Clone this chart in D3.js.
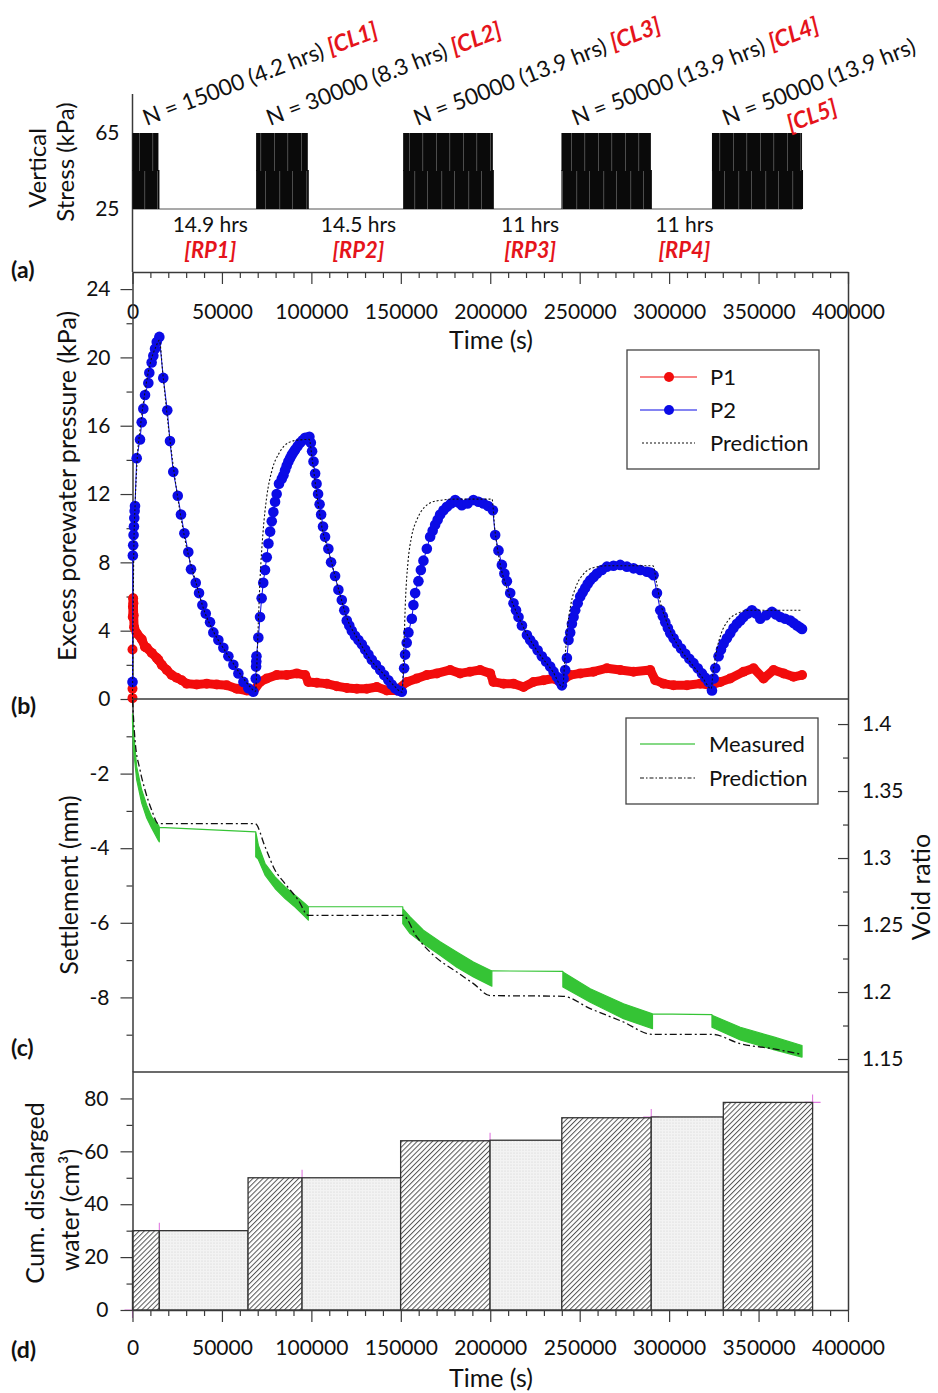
<!DOCTYPE html>
<html>
<head>
<meta charset="utf-8">
<script src="https://cdn.jsdelivr.net/npm/d3@7"></script>
<style>
  body { margin: 0; background: #fff; }
  svg text { font-family: Lato, "Open Sans", "DejaVu Sans", sans-serif; }
</style>
</head>
<body>
<svg id="chart" width="938" height="1393"></svg>
<script>
// ---------------- data ----------------
// (a) cyclic loading stages: start / end time (s), stress bounds (kPa)
const cycleStart = [0, 69100, 151300, 239800, 323950];
const cycleEnd   = [14500, 98000, 201450, 289800, 374300];
const stressRange = [25, 65];
const cycleCounts = [15000, 30000, 50000, 50000, 50000];
const cycleHours  = [4.2, 8.3, 13.9, 13.9, 13.9];
const cycleTags   = ["[CL1]", "[CL2]", "[CL3]", "[CL4]", "[CL5]"];
const restHours   = [14.9, 14.5, 11, 11];
const restTags    = ["[RP1]", "[RP2]", "[RP3]", "[RP4]"];

// (b) excess porewater pressure, [time (s), kPa]
const p1Series = [
  [0,0.05],[0,0.6],[0,2.9],[150,4.8],[250,5.4],[350,5.9],[500,5.6],[650,4.9],[900,4.2],
  [2350,3.85],[5150,3.5],[7000,3.05],[7950,3.0],[10750,2.7],[13550,2.4],[14450,2.3],[16350,2.0],
  [19150,1.7],[21900,1.4],[24700,1.25],[27500,1.1],[30300,0.9],[35900,0.85],[41500,0.9],
  [47100,0.85],[52700,0.8],[58300,0.6],[63850,0.5],[67550,0.45],[71300,1.0],[75050,1.2],
  [80650,1.4],[86250,1.4],[91850,1.5],[96500,1.4],[98300,1.0],[103000,0.95],[108600,0.9],
  [114200,0.75],[119800,0.65],[125400,0.6],[131000,0.6],[136600,0.7],[142200,0.5],[147750,0.5],
  [153350,1.0],[158950,1.2],[164550,1.4],[170150,1.5],[177600,1.7],[183150,1.5],[188750,1.6],
  [194350,1.7],[199950,1.5],[201800,1.0],[207400,0.9],[213000,0.9],[218600,0.7],[224150,1.0],
  [229750,1.1],[235350,1.2],[239100,1.0],[244700,1.4],[250300,1.5],[257700,1.6],[265200,1.8],
  [272650,1.7],[280100,1.6],[289450,1.7],[292250,1.1],[296900,0.9],[302450,0.8],[309950,0.8],
  [317400,0.9],[323000,0.8],[328600,1.0],[334150,1.2],[341600,1.6],[347200,1.8],[352800,1.2],
  [358400,1.7],[364000,1.5],[369550,1.3],[374300,1.4]
];
const p2Series = [
  [0,1.0],[200,8.4],[400,9.0],[600,9.6],[800,10.1],[1000,10.6],[1200,11.0],[1400,11.3],
  [2350,14.1],[4200,15.2],[5150,16.2],[6050,17.0],[7000,17.8],[8850,18.5],[9400,19.1],
  [10700,19.7],[11650,20.1],[12600,20.5],[13550,20.9],[15000,21.2],
  [17200,18.8],[19450,16.9],[20950,15.1],[22800,13.3],[25300,11.9],[27100,10.8],[29000,9.7],
  [31200,8.6],[32700,7.6],[35350,6.8],[37200,6.2],[39050,5.5],[40950,5.0],[43350,4.5],
  [45200,3.9],[48000,3.45],[50800,3.0],[53600,2.5],[56400,2.0],[59200,1.5],[62000,1.0],
  [64750,0.63],[67550,0.43],
  [68900,1.2],[69100,1.9],[69200,2.2],[69300,2.5],[70350,3.6],[71300,4.8],[72200,5.9],
  [73100,6.8],[74100,7.55],[75050,8.3],[76000,9.1],[76950,9.8],[77850,10.4],[78750,10.95],
  [79700,11.55],[80600,12.0],[81900,12.6],[83450,12.9],[84400,13.1],[85300,13.4],[86200,13.65],
  [87150,13.9],[88100,14.1],[89050,14.3],[90000,14.45],[90900,14.6],[92300,14.8],[93700,15.0],
  [95100,15.15],[96500,15.3],[97700,15.3],[98900,15.35],
  [99700,15.0],[100400,14.5],[101200,13.9],[102100,13.2],[102900,12.6],[103750,12.0],
  [104600,11.4],[105450,10.8],[106500,10.1],[107650,9.5],[109500,8.8],[111000,8.0],
  [113250,7.2],[115100,6.4],[117000,5.8],[118400,5.2],[119800,4.6],[121200,4.3],[122600,4.0],
  [124400,3.7],[126300,3.45],[128200,3.2],[130050,2.9],[131900,2.6],[133800,2.3],[136100,2.0],
  [138450,1.7],[140700,1.4],[143050,1.1],[144900,0.85],[146800,0.63],[148700,0.5],[150550,0.43],
  [151850,1.8],[152400,2.6],[153300,3.3],[154250,3.9],[156150,4.7],[157050,5.5],[158000,6.2],
  [159850,6.9],[161200,7.55],[162650,8.1],[164550,8.8],[166400,9.5],[167800,9.85],[169200,10.2],
  [170600,10.5],[172000,10.8],[173900,11.05],[175750,11.25],[178000,11.45],[180400,11.65],
  [182300,11.5],[184100,11.35],[187300,11.45],[190600,11.65],[193400,11.55],[196200,11.45],
  [198800,11.3],[201450,11.05],
  [202750,9.6],[204600,8.7],[206500,7.85],[207900,7.35],[209300,6.9],[211150,6.2],[213000,5.6],
  [214400,5.2],[215800,4.8],[217700,4.3],[220500,3.75],[222300,3.45],[224150,3.2],[226500,2.85],
  [228850,2.5],[231200,2.2],[233500,1.9],[235400,1.6],[237250,1.3],[238700,1.05],[240050,0.8],
  [241000,1.2],[241900,1.7],[242850,2.4],[243750,3.45],[244700,3.9],[245650,4.4],[246600,4.8],
  [247500,5.2],[248900,5.6],[250300,6.0],[251700,6.25],[253100,6.5],[254500,6.75],[255900,6.95],
  [257800,7.15],[259650,7.35],[262400,7.55],[265200,7.75],[268900,7.8],[272650,7.85],
  [276400,7.75],[280100,7.65],[283900,7.55],[287600,7.45],[289500,7.4],[291300,7.25],
  [293200,6.2],[295050,5.2],[296500,4.85],[297850,4.5],[299300,4.15],[300650,3.85],[302500,3.55],
  [304400,3.25],[306700,2.95],[309000,2.65],[311300,2.35],[313650,2.1],[316000,1.8],[318350,1.5],
  [320200,1.25],[322050,1.0],[323950,0.5],
  [324900,1.2],[325800,1.8],[327650,2.5],[329000,2.9],[330450,3.25],[332300,3.55],[334150,3.85],
  [336000,4.15],[337900,4.4],[339800,4.6],[341600,4.8],[344000,5.0],[346300,5.2],[348600,5.0],
  [350950,4.7],[354200,4.9],[357500,5.1],[359800,4.95],[362150,4.8],[364900,4.7],[367750,4.6],
  [369600,4.45],[371500,4.3],[373000,4.2],[374300,4.1]
];
const porePrediction = [
  [0,0],[300,4],[700,8.5],[1500,11.5],[2500,13.8],[4500,16],[7000,18],[10000,19.7],[13000,20.6],
  [15000,21.0],[17000,19],[20000,16],[25000,12],[30000,9],[35000,7],[40000,5.2],[45000,4.0],
  [50000,3.1],[55000,2.3],[60000,1.5],[65000,0.8],[68800,0.45],
  [70000,3.5],[71300,7],[73000,9.8],[75000,11.8],[78000,13.4],[82000,14.4],[87000,15.0],
  [92000,15.15],[98800,15.2],[100500,14],[103000,12],[106000,10],[110000,8.5],[115000,6.5],
  [120000,4.7],[126000,3.5],[133000,2.3],[140000,1.5],[146000,0.8],[150800,0.4],
  [151700,3],[152700,6],[154000,8],[156000,9.5],[159000,10.5],[163000,11.2],[170000,11.6],
  [180000,11.7],[201000,11.7],[202500,10],[205000,8.2],[210000,6.3],[215000,5],[220000,3.9],
  [227000,2.7],[235000,1.6],[240500,0.7],
  [241500,2],[243000,4],[245000,5.5],[248000,6.6],[252000,7.3],[258000,7.7],[266000,7.8],
  [291000,7.8],[293000,6.8],[295000,5.7],[298000,4.7],[302000,3.7],[307000,2.8],[313000,2.0],
  [319000,1.2],[323500,0.6],
  [324500,1.5],[326500,2.8],[329000,3.8],[333000,4.6],[338000,5.0],[345000,5.2],[374000,5.2]
];

// (c) measured settlement envelope: [time (s), upper (mm), lower (mm)]
const settleMeasured = [
  [0,-0.4,-0.6],[450,-0.83,-1.29],[2350,-1.82,-2.17],[5150,-2.44,-2.79],[7950,-2.85,-3.19],
  [10700,-3.16,-3.46],[14450,-3.38,-3.79],[15000,-3.44,-3.83],
  [15000,-3.44,-3.44],[68900,-3.56,-3.56],
  [68900,-3.56,-4.23],[70350,-3.92,-4.30],[74100,-4.41,-4.72],[79700,-4.77,-5.08],
  [85300,-5.04,-5.35],[90900,-5.26,-5.58],[96500,-5.49,-5.84],[98300,-5.57,-5.93],
  [98300,-5.57,-5.57],[151100,-5.57,-5.57],
  [151100,-5.62,-6.02],[155200,-5.84,-6.29],[162650,-6.20,-6.56],[172000,-6.51,-6.87],
  [181300,-6.78,-7.19],[190600,-7.05,-7.45],[200900,-7.29,-7.70],
  [200900,-7.29,-7.29],[240600,-7.30,-7.30],
  [240600,-7.32,-7.72],[255900,-7.77,-8.13],[274500,-8.17,-8.57],[290700,-8.44,-8.84],
  [290700,-8.44,-8.44],[323950,-8.46,-8.46],
  [323950,-8.48,-8.80],[339800,-8.80,-9.14],[358400,-9.06,-9.40],[374300,-9.29,-9.60]
];
const settlePrediction = [
  [0,-0.03],[1400,-1.1],[4200,-1.9],[7000,-2.44],[10750,-2.98],[14450,-3.34],[68500,-3.34],
  [74100,-3.96],[79700,-4.59],[85300,-4.95],[92750,-5.40],[98300,-5.80],[151100,-5.80],
  [158950,-6.38],[168250,-6.87],[181300,-7.32],[190600,-7.63],[199950,-7.95],[240600,-7.97],
  [255900,-8.30],[274500,-8.66],[290400,-8.99],[323950,-8.99],[339800,-9.24],[358400,-9.38],
  [374300,-9.53]
];

// (d) cumulative discharged water per stage
const waterStart = [0, 15000, 64600, 94800, 149900, 199900, 240000, 290000, 330300];
const waterEnd   = [15000, 64600, 94800, 149900, 199900, 240000, 290000, 330300, 380200];
const waterValue = [30, 30, 50, 50, 64, 64.2, 72.7, 73, 78.5];
const waterStage = ["CL","RP","CL","RP","CL","RP","CL","RP","CL"];
const waterPoints = [[0,0],[15000,30],[94800,50],[199900,64],[290000,73],[380200,78.5]];

// axis ticks
const timeTicks = [0, 50000, 100000, 150000, 200000, 250000, 300000, 350000, 400000];
const timeMinor = d3.range(10000, 400000, 10000).filter(d => d % 50000 !== 0);
const stressTicks = [25, 65];
const poreTicks = [0, 4, 8, 12, 16, 20, 24];
const poreMinor = [2, 6, 10, 14, 18, 22];
const settleTicks = [-8, -6, -4, -2];
const settleMinor = [-9, -7, -5, -3, -1];
const voidTicks = [1.15, 1.2, 1.25, 1.3, 1.35, 1.4];
const voidMinor = [1.175, 1.225, 1.275, 1.325, 1.375];
const waterTicks = [0, 20, 40, 60, 80];
const waterMinor = [10, 30, 50, 70];

// ---------------- layout ----------------
const FONT = 'Lato, "Open Sans", sans-serif';
const AX = "#3a3a3a";
const RED = "#f20c0c", BLUE = "#0b0be6", GREEN = "#35c435", TAG = "#e5141b";
const TICK_FS = 21, TITLE_FS = 25;
const svg = d3.select("#chart");

const x = d3.scaleLinear().domain([0, 400000]).range([132.5, 848]);
const yStress = d3.scaleLinear().domain([25, 65]).range([209, 133]);
const yPore = d3.scaleLinear().domain([0, 25]).range([699, 272]);
const ySettle = d3.scaleLinear().domain([-10, 0]).range([1072, 699]);
const yVoid = d3.scaleLinear().domain([1.1403, 1.4187]).range([1072, 699]);
const yWater = d3.scaleLinear().domain([0, 90]).range([1310, 1072]);

function styleAxis(g, size) {
  g.attr("font-family", FONT).attr("font-size", size || TICK_FS);
  g.select(".domain").attr("stroke", AX).attr("stroke-width", 1.5);
  g.selectAll(".tick line").attr("stroke", AX).attr("stroke-width", 1.2);
  g.selectAll(".tick text").attr("fill", "#111");
}
function minorAxis(gen, tf) {
  const g = svg.append("g").attr("transform", tf).call(gen.tickFormat(""));
  g.select(".domain").remove();
  g.selectAll(".tick line").attr("stroke", AX).attr("stroke-width", 1.2);
  return g;
}
function label(tf, text, size) {
  return svg.append("text").attr("transform", tf).attr("text-anchor", "middle")
    .attr("font-size", size || TITLE_FS).attr("fill", "#111").text(text);
}
const fmt = d => String(d);

// defs: fills for the cyclic stress blocks and panel (d) bars
const defs = svg.append("defs");
function streaks(id, offsets) {
  const p = defs.append("pattern").attr("id", id).attr("patternUnits", "userSpaceOnUse")
    .attr("width", 27).attr("height", 400);
  p.append("rect").attr("width", 27).attr("height", 400).attr("fill", "#0a0a0a");
  offsets.forEach(o => p.append("rect").attr("x", o).attr("width", 0.6).attr("height", 400)
    .attr("fill", "#fff").attr("opacity", 0.45));
}
streaks("streakTop", [4, 17.5]);
streaks("streakBot", [9.5, 22]);
const hatch = defs.append("pattern").attr("id", "hatch").attr("patternUnits", "userSpaceOnUse")
  .attr("width", 3.6).attr("height", 3.6).attr("patternTransform", "rotate(45)");
hatch.append("rect").attr("width", 3.6).attr("height", 3.6).attr("fill", "#fff");
hatch.append("line").attr("x1", 0.5).attr("y1", 0).attr("x2", 0.5).attr("y2", 3.6)
  .attr("stroke", "#555").attr("stroke-width", 1);
const dots = defs.append("pattern").attr("id", "dots").attr("patternUnits", "userSpaceOnUse")
  .attr("width", 3).attr("height", 3);
dots.append("rect").attr("width", 3).attr("height", 3).attr("fill", "#f3f3f3");
dots.append("circle").attr("cx", 1).attr("cy", 1).attr("r", 0.6).attr("fill", "#cfcfcf");

// ---------------- panel (a): vertical stress ----------------
svg.append("line").attr("x1", 132.5).attr("x2", 132.5).attr("y1", 94).attr("y2", 272)
  .attr("stroke", AX).attr("stroke-width", 1.5);
svg.append("line").attr("x1", x(0)).attr("x2", x(cycleEnd[cycleEnd.length - 1]))
  .attr("y1", yStress(stressRange[0])).attr("y2", yStress(stressRange[0]))
  .attr("stroke", "#555").attr("stroke-width", 1.2);
const stressMid = (stressRange[0] + stressRange[1]) / 2;
const blocks = svg.append("g");
blocks.selectAll("rect.bot").data(cycleStart).join("rect").attr("class", "bot")
  .attr("x", d => x(d)).attr("width", (d, i) => x(cycleEnd[i]) - x(d) + 1)
  .attr("y", yStress(stressMid) - 1).attr("height", yStress(stressRange[0]) - yStress(stressMid) + 1)
  .attr("fill", "url(#streakBot)");
blocks.selectAll("rect.top").data(cycleStart).join("rect").attr("class", "top")
  .attr("x", d => x(d)).attr("width", (d, i) => x(cycleEnd[i]) - x(d))
  .attr("y", yStress(stressRange[1])).attr("height", yStress(stressMid) - yStress(stressRange[1]))
  .attr("fill", "url(#streakTop)");
const gA = svg.append("g").attr("transform", "translate(132.5,0)")
  .call(d3.axisLeft(yStress).tickValues(stressTicks).tickSize(0).tickPadding(13).tickFormat(fmt));
gA.select(".domain").remove();
styleAxis(gA);

label("translate(46,168) rotate(-90)", "Vertical", 24);
label("translate(74,162) rotate(-90)", "Stress (kPa)", 24);

cycleStart.forEach((s, i) => {
  const t = svg.append("text")
    .attr("transform", `translate(${x(s) + 14},126) rotate(-21)`)
    .attr("font-size", 22.5).attr("fill", "#111");
  t.append("tspan").text(`N = ${cycleCounts[i]} (${cycleHours[i]} hrs) `);
  const tag = t.append("tspan").attr("fill", TAG).attr("font-weight", "bold").attr("font-style", "italic")
    .attr("font-size", 23).text(cycleTags[i]);
  if (i === cycleStart.length - 1) tag.attr("x", 58).attr("dy", 29);
});

restHours.forEach((h, i) => {
  const cx = (x(cycleEnd[i]) + x(cycleStart[i + 1])) / 2 + 3;
  svg.append("text").attr("x", cx).attr("y", 232).attr("text-anchor", "middle")
    .attr("font-size", 21).attr("fill", "#111").text(`${h} hrs`);
  svg.append("text").attr("x", cx).attr("y", 258).attr("text-anchor", "middle")
    .attr("font-size", 22).attr("font-weight", "bold").attr("font-style", "italic")
    .attr("fill", TAG).text(restTags[i]);
});

// ---------------- panel (b): excess porewater pressure ----------------
minorAxis(d3.axisBottom(x).tickValues(timeMinor).tickSize(6), "translate(0,272)");
const gTop = svg.append("g").attr("transform", "translate(0,272)")
  .call(d3.axisBottom(x).tickValues(timeTicks).tickSize(12).tickSizeOuter(0).tickPadding(20).tickFormat(fmt));
styleAxis(gTop);
label("translate(491,349)", "Time (s)");

minorAxis(d3.axisLeft(yPore).tickValues(poreMinor).tickSize(6), "translate(132.5,0)");
const gPore = svg.append("g").attr("transform", "translate(132.5,0)")
  .call(d3.axisLeft(yPore).tickValues(poreTicks).tickSize(12).tickSizeOuter(0).tickPadding(10).tickFormat(fmt));
styleAxis(gPore);
label("translate(76,486) rotate(-90)", "Excess porewater pressure (kPa)");

const porePath = d3.line().x(d => x(d[0])).y(d => yPore(d[1]));
// P1: closely spaced readings merge into a solid trace
svg.append("path").datum(p1Series.filter(d => d[0] > 0)).attr("d", porePath)
  .attr("fill", "none").attr("stroke", RED).attr("stroke-width", 9)
  .attr("stroke-linejoin", "round").attr("stroke-linecap", "round");
svg.append("g").selectAll("circle").data(p1Series).join("circle")
  .attr("cx", d => x(d[0])).attr("cy", d => yPore(d[1])).attr("r", 5).attr("fill", RED);
// P2
svg.append("path").datum(p2Series).attr("d", porePath)
  .attr("fill", "none").attr("stroke", BLUE).attr("stroke-width", 1);
svg.append("g").selectAll("circle").data(p2Series).join("circle")
  .attr("cx", d => x(d[0])).attr("cy", d => yPore(d[1])).attr("r", 5.3).attr("fill", BLUE);
// prediction
svg.append("path").datum(porePrediction).attr("d", porePath.curve(d3.curveMonotoneX))
  .attr("fill", "none").attr("stroke", "#111").attr("stroke-width", 1.1).attr("stroke-dasharray", "2,2");

// legend (b)
const lb = svg.append("g");
lb.append("rect").attr("x", 627).attr("y", 350).attr("width", 192).attr("height", 119)
  .attr("fill", "#fff").attr("stroke", "#444").attr("stroke-width", 1.3);
[["P1", RED, 377], ["P2", BLUE, 410]].forEach(([name, c, yy]) => {
  lb.append("line").attr("x1", 640).attr("x2", 697).attr("y1", yy).attr("y2", yy).attr("stroke", c).attr("stroke-width", 1.2);
  lb.append("circle").attr("cx", 669).attr("cy", yy).attr("r", 5).attr("fill", c);
  lb.append("text").attr("x", 710).attr("y", yy + 8).attr("font-size", 22).attr("fill", "#111").text(name);
});
lb.append("line").attr("x1", 642).attr("x2", 695).attr("y1", 443).attr("y2", 443)
  .attr("stroke", "#111").attr("stroke-width", 1.1).attr("stroke-dasharray", "2,2");
lb.append("text").attr("x", 710).attr("y", 451).attr("font-size", 22).attr("fill", "#111").text("Prediction");

// ---------------- panel (c): settlement ----------------
svg.append("line").attr("x1", 132.5).attr("x2", 848).attr("y1", 699).attr("y2", 699)
  .attr("stroke", AX).attr("stroke-width", 1.5);
svg.append("line").attr("x1", 132.5).attr("x2", 848).attr("y1", 1072).attr("y2", 1072)
  .attr("stroke", AX).attr("stroke-width", 1.5);
svg.append("line").attr("x1", 848.5).attr("x2", 848.5).attr("y1", 272).attr("y2", 1310)
  .attr("stroke", AX).attr("stroke-width", 1.5);

minorAxis(d3.axisLeft(ySettle).tickValues(settleMinor).tickSize(6), "translate(132.5,0)");
const gSet = svg.append("g").attr("transform", "translate(132.5,0)")
  .call(d3.axisLeft(ySettle).tickValues(settleTicks).tickSize(12).tickSizeOuter(0).tickPadding(11).tickFormat(fmt));
styleAxis(gSet);
minorAxis(d3.axisRight(yVoid).tickValues(voidMinor).tickSize(-5), "translate(848,0)");
const gVoid = svg.append("g").attr("transform", "translate(848,0)")
  .call(d3.axisRight(yVoid).tickValues(voidTicks).tickSizeInner(-10).tickSizeOuter(0).tickPadding(14).tickFormat(fmt));
gVoid.select(".domain").remove();
styleAxis(gVoid);

label("translate(78,885) rotate(-90)", "Settlement (mm)");
label("translate(930,887) rotate(-90)", "Void ratio");

svg.append("path").datum(settleMeasured)
  .attr("d", d3.area().x(d => x(d[0])).y0(d => ySettle(d[2])).y1(d => ySettle(d[1])))
  .attr("fill", GREEN).attr("stroke", GREEN).attr("stroke-width", 1.2).attr("stroke-linejoin", "round");
svg.append("path").datum(settlePrediction)
  .attr("d", d3.line().x(d => x(d[0])).y(d => ySettle(d[1])).curve(d3.curveMonotoneX))
  .attr("fill", "none").attr("stroke", "#111").attr("stroke-width", 1.3).attr("stroke-dasharray", "7,3,2,3");

const lc = svg.append("g");
lc.append("rect").attr("x", 626).attr("y", 718).attr("width", 192).attr("height", 86)
  .attr("fill", "#fff").attr("stroke", "#444").attr("stroke-width", 1.3);
lc.append("line").attr("x1", 640).attr("x2", 695).attr("y1", 744).attr("y2", 744)
  .attr("stroke", "#5ccc5c").attr("stroke-width", 1.4);
lc.append("text").attr("x", 709).attr("y", 752).attr("font-size", 22).attr("fill", "#111").text("Measured");
lc.append("line").attr("x1", 640).attr("x2", 695).attr("y1", 778).attr("y2", 778)
  .attr("stroke", "#111").attr("stroke-width", 1.2).attr("stroke-dasharray", "4,2,1.5,2");
lc.append("text").attr("x", 709).attr("y", 786).attr("font-size", 22).attr("fill", "#111").text("Prediction");

// ---------------- panel (d): cumulative discharged water ----------------
svg.append("g").selectAll("path").data(waterPoints).join("path")
  .attr("d", d => `M${x(d[0]) - 8},${yWater(d[1])}H${x(d[0]) + 8}M${x(d[0])},${yWater(d[1]) - 8}V${yWater(d[1]) + 8}`)
  .attr("stroke", "#e07ae0").attr("stroke-width", 1.1).attr("fill", "none");
svg.append("g").selectAll("rect").data(waterValue).join("rect")
  .attr("x", (d, i) => x(waterStart[i])).attr("width", (d, i) => x(waterEnd[i]) - x(waterStart[i]))
  .attr("y", d => yWater(d)).attr("height", d => yWater(0) - yWater(d))
  .attr("fill", (d, i) => waterStage[i] === "CL" ? "url(#hatch)" : "url(#dots)")
  .attr("stroke", "#333").attr("stroke-width", 1.3);

minorAxis(d3.axisLeft(yWater).tickValues(waterMinor).tickSize(6), "translate(132.5,0)");
const gW = svg.append("g").attr("transform", "translate(132.5,0)")
  .call(d3.axisLeft(yWater).tickValues(waterTicks).tickSize(12).tickSizeOuter(0).tickPadding(12).tickFormat(fmt));
styleAxis(gW);
minorAxis(d3.axisBottom(x).tickValues(timeMinor).tickSize(6), "translate(0,1310)");
const gBot = svg.append("g").attr("transform", "translate(0,1310)")
  .call(d3.axisBottom(x).tickValues(timeTicks).tickSize(12).tickSizeOuter(0).tickPadding(18).tickFormat(fmt));
styleAxis(gBot);
label("translate(491,1387)", "Time (s)");
label("translate(44,1193) rotate(-90)", "Cum. discharged");
label("translate(79,1210) rotate(-90)", "water (cm³)");

// panel letters
[["(a)", 278], ["(b)", 714], ["(c)", 1056], ["(d)", 1358]].forEach(([s, yy]) => {
  svg.append("text").attr("x", 11).attr("y", yy).attr("font-size", 23).attr("font-weight", "bold")
    .attr("fill", "#111").text(s);
});
</script>
</body>
</html>
